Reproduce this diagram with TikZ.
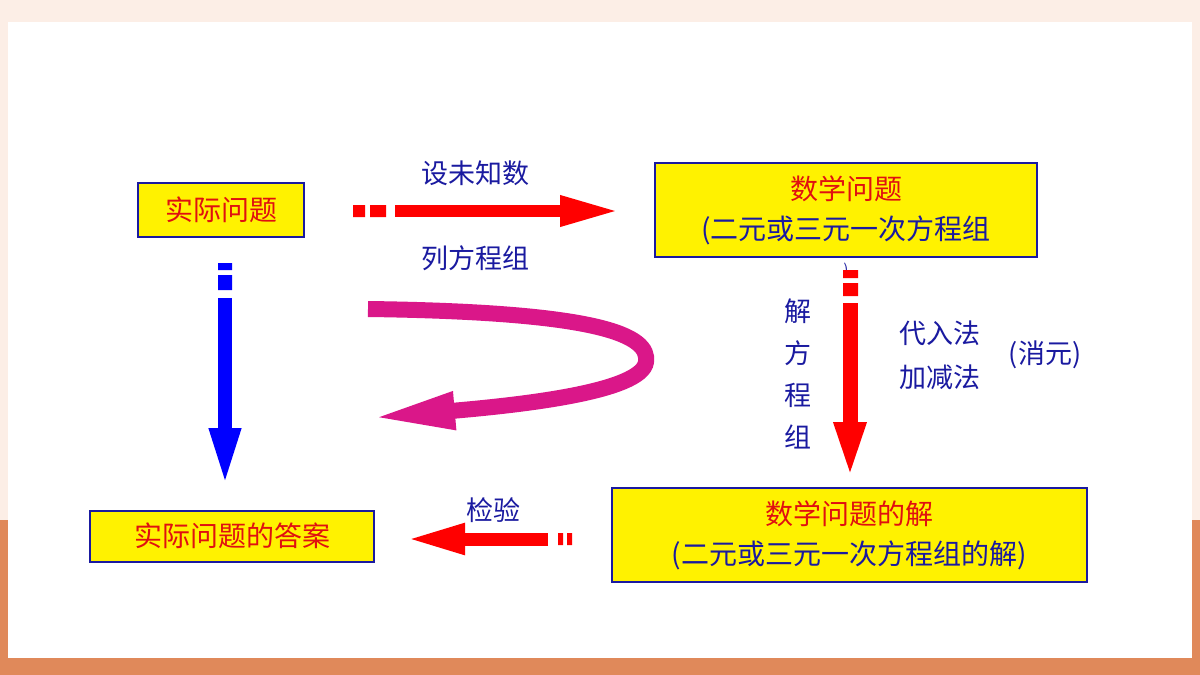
\documentclass[tikz,border=0pt]{standalone}
\usepackage{fontspec}
\setmainfont{Noto Sans CJK SC}
\usetikzlibrary{arrows.meta}
\definecolor{peach}{HTML}{FCEEE6}
\definecolor{rust}{HTML}{E0895A}
\definecolor{ink}{HTML}{1A1AA0}
\definecolor{boxred}{HTML}{E01010}
\tikzstyle{panel} = [rectangle, draw=ink, line width=2pt, fill=yellow, text=boxred, align=center, inner sep=0pt, font=\fontsize{28}{40}\selectfont]
\tikzstyle{lbl} = [text=ink, font=\fontsize{27}{40}\selectfont, inner sep=0pt, align=center]
\tikzstyle{fat} = [line width=12pt, -{Triangle[length=60pt,width=28pt]}]

\begin{document}
\begin{tikzpicture}[x=1pt, y=-1pt]
% background
\fill[peach] (0,0) rectangle (1200,675);
\fill[rust] (0,520) rectangle (1200,675);
\fill[white] (8,22) rectangle (1192,658);
\useasboundingbox (0,0) rectangle (1200,675);

% boxes
\node (real) [panel, minimum width=166pt, minimum height=54pt] at (221,210) {实际问题};
\node (math) [panel, minimum width=382pt, minimum height=94pt] at (846,210) {数学问题\\\textcolor{ink}{(二元或三元一次方程组}};
\node (sol) [panel, minimum width=475pt, minimum height=94pt] at (849,535) {数学问题的解\\\textcolor{ink}{(二元或三元一次方程组的解)}};
\node (answer) [panel, minimum width=284pt, minimum height=51pt] at (232,536) {实际问题的答案};
\node (paren) [text=ink, font=\fontsize{14}{14}\selectfont] at (846,270) {)};

% labels
\node (setx) [lbl] at (475,173) {设未知数};
\node (eqs) [lbl] at (475,258) {列方程组};
\node (solve) [lbl, font=\fontsize{27}{42}\selectfont] at (798,374) {解\\方\\程\\组};
\node (subst) [lbl] at (940,333) {代入法};
\node (elim) [lbl] at (940,377) {加减法};
\node (xiao) [lbl] at (1045,355) {(消元)};
\node (check) [lbl] at (493,510) {检验};

% arrows
\coordinate (r1) at (395,211);
\coordinate (r2) at (620,211);
\fill[red] (353,205) rectangle (365,217) (370,205) rectangle (386,217);
\draw [fat, red] (r1) -- (r2);

\coordinate (b1) at (225,298);
\coordinate (b2) at (225,488);
\fill[blue] (218,263) rectangle (232,270) (218,275) rectangle (232,290);
\draw [fat, blue, line width=14pt] (b1) -- (b2);

\coordinate (d1) at (850,303);
\coordinate (d2) at (850,482);
\fill[red] (843,270) rectangle (858,278) (843,283) rectangle (858,296);
\draw [fat, red, line width=15pt] (d1) -- (d2);

\coordinate (l1) at (548,539);
\coordinate (l2) at (405,539);
\fill[red] (567,533) rectangle (572,545) (558,533) rectangle (563,545);
\draw [fat, red, line width=13pt] (l1) -- (l2);

\coordinate (m1) at (368,309);
\coordinate (m2) at (370,418);
\draw [magenta!80!violet, line width=16pt, -{Triangle[length=85pt,width=34pt]}] (m1) .. controls (600,312) and (650,335) .. (646,362) .. controls (642,392) and (520,405) .. (m2);
\end{tikzpicture}
\end{document}
